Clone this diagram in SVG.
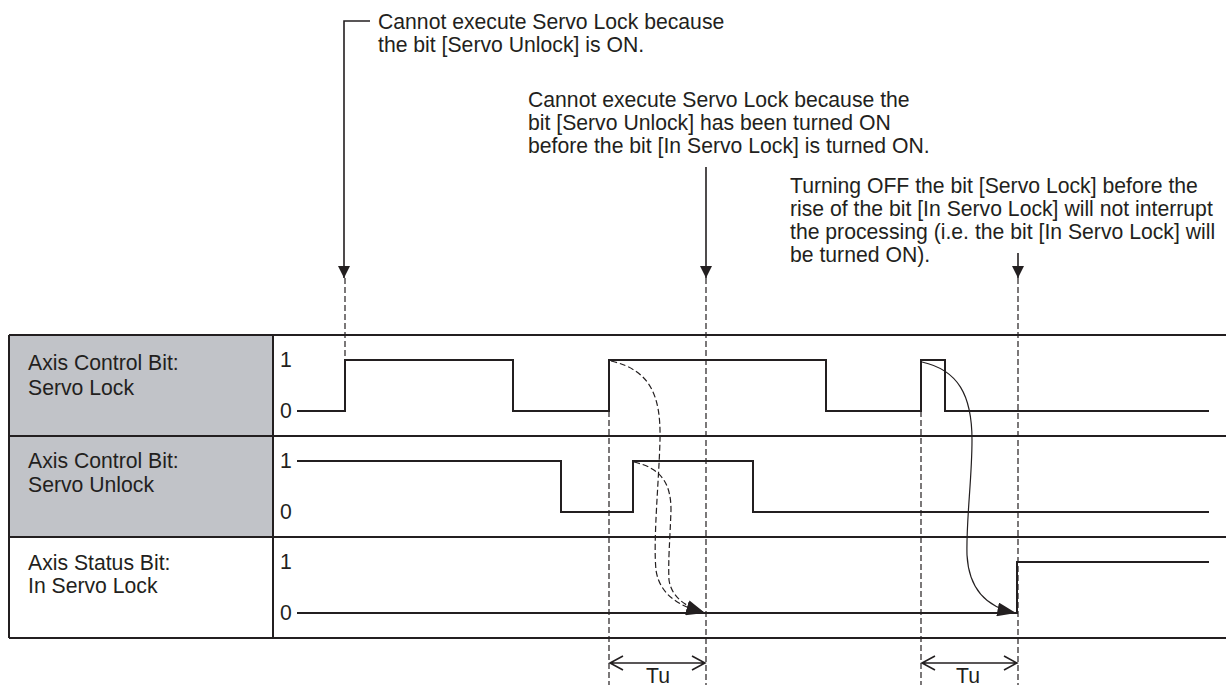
<svg xmlns="http://www.w3.org/2000/svg" width="1226" height="685" viewBox="0 0 1226 685">
<defs>
<style>
text{font-family:"Liberation Sans",Arial,sans-serif;font-size:21.2px;fill:#231f20}
.grid{stroke:#231f20;stroke-width:2;fill:none}
.sig{stroke:#231f20;stroke-width:2;fill:none;stroke-linejoin:miter}
.dash{stroke:#231f20;stroke-width:1.2;fill:none;stroke-dasharray:6,3}
.lead{stroke:#231f20;stroke-width:1.6;fill:none}
.curve{stroke:#231f20;stroke-width:1.2;fill:none}
.dim{stroke:#231f20;stroke-width:1.6;fill:none}
</style>
<marker id="ah" viewBox="0 0 12 12" refX="12" refY="6" markerWidth="12" markerHeight="12" markerUnits="userSpaceOnUse" orient="auto">
<path d="M0,0 L12,6 L0,12 Z" fill="#231f20"/>
</marker>
<marker id="ahb" viewBox="0 0 16 12" refX="16" refY="6" markerWidth="19" markerHeight="14" markerUnits="userSpaceOnUse" orient="auto">
<path d="M0,0 L16,6 L0,12 Z" fill="#231f20"/>
</marker>
</defs>
<rect width="1226" height="685" fill="#ffffff"/>

<g id="table">
<rect x="9" y="335" width="264" height="202" fill="#c1c3c8"/>
<path class="grid" d="M9,335 H1226 M9,436 H1226 M9,537 H1226 M9,638 H1226 M9,335 V638 M273,335 V638"/>
</g>

<g id="row-servo-lock">
<text x="28" y="370">Axis Control Bit:</text>
<text x="28" y="395">Servo Lock</text>
<text x="280" y="367">1</text>
<text x="280" y="418">0</text>
<path class="sig" d="M297,411 H345 V360 H513 V411 H609 V360 H826 V411 H921 V360 H945 V411 H1209"/>
</g>

<g id="row-servo-unlock">
<text x="28" y="468">Axis Control Bit:</text>
<text x="28" y="492">Servo Unlock</text>
<text x="280" y="468">1</text>
<text x="280" y="519">0</text>
<path class="sig" d="M297,461 H561 V512 H633 V461 H753 V512 H1209"/>
</g>

<g id="row-in-servo-lock">
<text x="28" y="570">Axis Status Bit:</text>
<text x="28" y="593">In Servo Lock</text>
<text x="280" y="569">1</text>
<text x="280" y="620">0</text>
<path class="sig" d="M297,613 H1017 V562 H1209"/>
</g>

<g id="note-1">
<text x="378" y="29">Cannot execute Servo Lock because</text>
<text x="378" y="52">the bit [Servo Unlock] is ON.</text>
</g>
<g id="note-2">
<text x="528" y="107">Cannot execute Servo Lock because the</text>
<text x="528" y="130">bit [Servo Unlock] has been turned ON</text>
<text x="528" y="153">before the bit [In Servo Lock] is turned ON.</text>
</g>
<g id="note-3">
<text x="790" y="193">Turning OFF the bit [Servo Lock] before the</text>
<text x="790" y="216">rise of the bit [In Servo Lock] will not interrupt</text>
<text x="790" y="239">the processing (i.e. the bit [In Servo Lock] will</text>
<text x="790" y="262">be turned ON).</text>
</g>

<g id="connectors">
<path class="lead" d="M370,21 H344 V278" marker-end="url(#ah)"/>
<path class="lead" d="M706,167 V278" marker-end="url(#ah)"/>
<path class="lead" d="M1018,253 V278" marker-end="url(#ah)"/>
<path class="dash" d="M345,278 V360"/>
<path class="dash" d="M706,278 V685"/>
<path class="dash" d="M1018,278 V685"/>
<path class="dash" d="M609,411 V685"/>
<path class="dash" d="M921,411 V685"/>
<path class="dash" d="M611,361 C650,370 661,395 660,440 C659,480 653,540 656,570 C660,598 685,608 705,613" marker-end="url(#ahb)"/>
<path class="dash" d="M634,462 C660,468 671,482 671,510 C670,540 668,560 669,580 C672,600 690,608 705,613" marker-end="url(#ahb)"/>
<path class="curve" d="M922,362 C958,370 972,395 972,440 C972,480 966,520 967,555 C969,592 990,608 1016,613" marker-end="url(#ahb)"/>
</g>

<g id="tu-1">
<path class="dim" d="M610,663 H705 M623,656 L610,663 L623,670 M692,656 L705,663 L692,670"/>
<text x="658" y="683" text-anchor="middle">Tu</text>
</g>
<g id="tu-2">
<path class="dim" d="M922,663 H1017 M935,656 L922,663 L935,670 M1004,656 L1017,663 L1004,670"/>
<text x="968" y="683" text-anchor="middle">Tu</text>
</g>
</svg>
